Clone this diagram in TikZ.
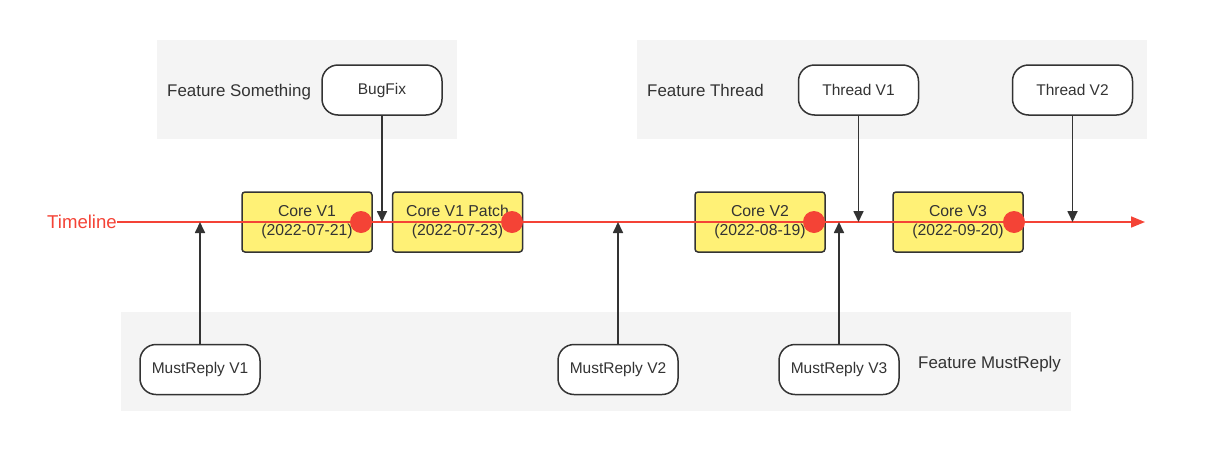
\documentclass[tikz,border=0pt]{standalone}
\usepackage{fontspec}
\setmainfont{Liberation Sans}
\usetikzlibrary{arrows.meta}
\definecolor{panel}{HTML}{F4F4F4}
\definecolor{coreyellow}{HTML}{FFF176}
\definecolor{tlred}{HTML}{F44336}
\definecolor{ink}{HTML}{333333}
\begin{document}
\begin{tikzpicture}[x=1pt,y=-1pt,
  featurebox/.style={draw=ink,line width=1.5pt,fill=white,rounded corners=16pt,
    minimum width=120pt,minimum height=50pt,inner sep=0pt,
    font=\fontsize{15.5}{18}\selectfont,text=ink},
  corebox/.style={draw=ink,line width=1.5pt,fill=coreyellow,rounded corners=3pt,
    minimum width=130pt,minimum height=60pt,inner sep=0pt,align=center,
    font=\fontsize{15.8}{19}\selectfont,text=ink},
  reddot/.style={circle,fill=tlred,minimum size=22pt,inner sep=0pt},
  flow/.style={draw=ink,line width=1.7pt,-{Triangle[length=11pt,width=10pt]}},
  featlabel/.style={font=\fontsize{16.9}{19}\selectfont,text=ink,anchor=base west,inner sep=0pt}]
\useasboundingbox (0,0) rectangle (1211,453);
% panels
\fill[panel] (157,40) rectangle (457,139);
\fill[panel] (637,40) rectangle (1147,139);
\fill[panel] (121,312) rectangle (1071,411);
% panel labels
\node[featlabel] (fs) at (167,96) {Feature Something};
\node[featlabel] (ft) at (647,96) {Feature Thread};
\node[featlabel] (fm) at (918,368) {Feature MustReply};
% core boxes
\node[corebox] (c1) at (307,222) {Core V1\\(2022-07-21)};
\node[corebox] (c1p) at (457.5,222) {Core V1 Patch\\(2022-07-23)};
\node[corebox] (c2) at (760,222) {Core V2\\(2022-08-19)};
\node[corebox] (c3) at (958,222) {Core V3\\(2022-09-20)};
% feature boxes
\node[featurebox] (bug) at (382,90) {BugFix};
\node[featurebox] (th1) at (858.5,90) {Thread V1};
\node[featurebox] (th2) at (1072.5,90) {Thread V2};
\node[featurebox] (mr1) at (200,369.5) {MustReply V1};
\node[featurebox] (mr2) at (618,369.5) {MustReply V2};
\node[featurebox] (mr3) at (839,369.5) {MustReply V3};
% timeline
\node[text=tlred,font=\fontsize{18.6}{21}\selectfont,anchor=east,inner sep=0pt] (tl) at (117,222) {Timeline};
\coordinate (tend) at (1145,222);
\draw[tlred,line width=1.7pt,-{Triangle[length=14pt,width=11pt]}] (tl.east) -- (tend);
% dots
\node[reddot] (d1) at (361,222) {};
\node[reddot] (d2) at (512,222) {};
\node[reddot] (d3) at (814,222) {};
\node[reddot] (d4) at (1014,222) {};
% arrow ends on timeline
\coordinate (pbug) at (382,222);
\coordinate (pth1) at (858.5,222);
\coordinate (pth2) at (1072.5,222);
\coordinate (pmr1) at (200,222);
\coordinate (pmr2) at (618,222);
\coordinate (pmr3) at (839,222);
\draw[flow] (bug.south) -- (pbug);
\draw[flow] (th1.south) -- (pth1);
\draw[flow] (th2.south) -- (pth2);
\draw[flow] (mr1.north) -- (pmr1);
\draw[flow] (mr2.north) -- (pmr2);
\draw[flow] (mr3.north) -- (pmr3);
\end{tikzpicture}
\end{document}
